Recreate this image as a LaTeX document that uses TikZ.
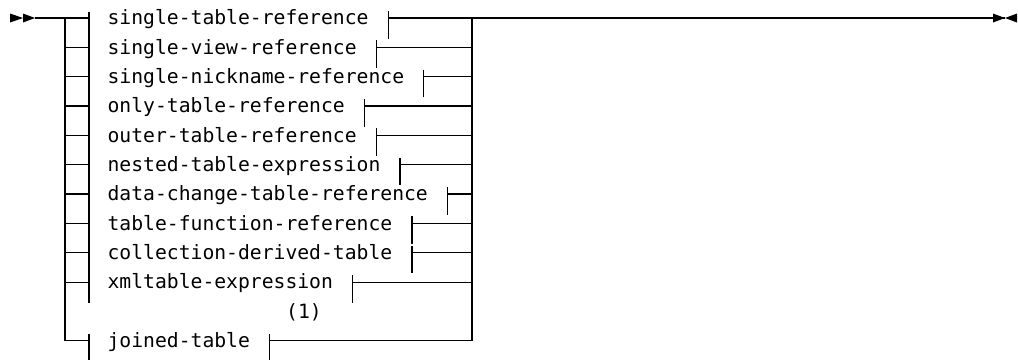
\documentclass[tikz,border=0pt]{standalone}
\usepackage{fontspec}
\setmonofont{DejaVu Sans Mono}
\usetikzlibrary{calc}
\begin{document}
\begin{tikzpicture}[x=1pt,y=-1pt,line width=1.25pt,
  lbl/.style={font=\ttfamily\fontsize{19.7}{20}\selectfont,inner sep=0pt,anchor=base west},
  note/.style={font=\ttfamily\fontsize{19.7}{20}\selectfont,inner sep=0pt,anchor=base},
  tip/.style={fill=black,draw=none}]
\useasboundingbox (0,0) rectangle (1018,360);
% rows
\foreach \t [count=\i from 0] in {single-table-reference,single-view-reference,single-nickname-reference,only-table-reference,outer-table-reference,nested-table-expression,data-change-table-reference,table-function-reference,collection-derived-table,xmltable-expression}{
  \pgfmathsetmacro\yy{18+29.35*\i}
  \node[lbl] (r\i) at (107,\yy+6.7) {\t};
  \path let \p1=(r\i.east) in coordinate (E\i) at (\x1+19pt,-\yy pt);
  \coordinate (A\i) at (65,\yy);
  \coordinate (B\i) at (89,\yy);
  \coordinate (C\i) at (472,\yy);
  \draw (A\i) -- (B\i);
  \draw ([yshift=7pt]E\i) -- ([yshift=-20.5pt]E\i);
  \draw (E\i) -- (C\i);
}
% joined-table row
\pgfmathsetmacro\yj{18+29.35*11}
\node[note] (n1) at (304,18+29.35*10+6.7) {(1)};
\node[lbl] (r11) at (107,\yj+6.7) {joined-table};
\path let \p1=(r11.east) in coordinate (E11) at (\x1+19pt,-\yj pt);
\coordinate (A11) at (65,\yj);
\coordinate (B11) at (89,\yj);
\coordinate (C11) at (472,\yj);
\draw (A11) -- (B11);
\draw ([yshift=7pt]B11) -- (89,360);
\draw ([yshift=7pt]E11) -- (E11 |- 0,360);
\draw (E11) -- (C11);
% verticals
\draw (A0) -- (A11);
\draw ([yshift=6pt]B0) -- ([yshift=-20.5pt]B9);
\draw (C0) -- (C11);
% main line
\coordinate (S) at (35,18);
\coordinate (T) at (1005,18);
\draw (S) -- (A0);
\draw (C0) -- (T);
% start and end marks
\fill[tip] (10,13.5) -- (23,18) -- (10,22.5) -- cycle;
\fill[tip] (23,13.5) -- (35,18) -- (23,22.5) -- cycle;
\fill[tip] (993,13.5) -- (1005,18) -- (993,22.5) -- cycle;
\fill[tip] (1017,13.5) -- (1005,18) -- (1017,22.5) -- cycle;
\end{tikzpicture}
\end{document}
